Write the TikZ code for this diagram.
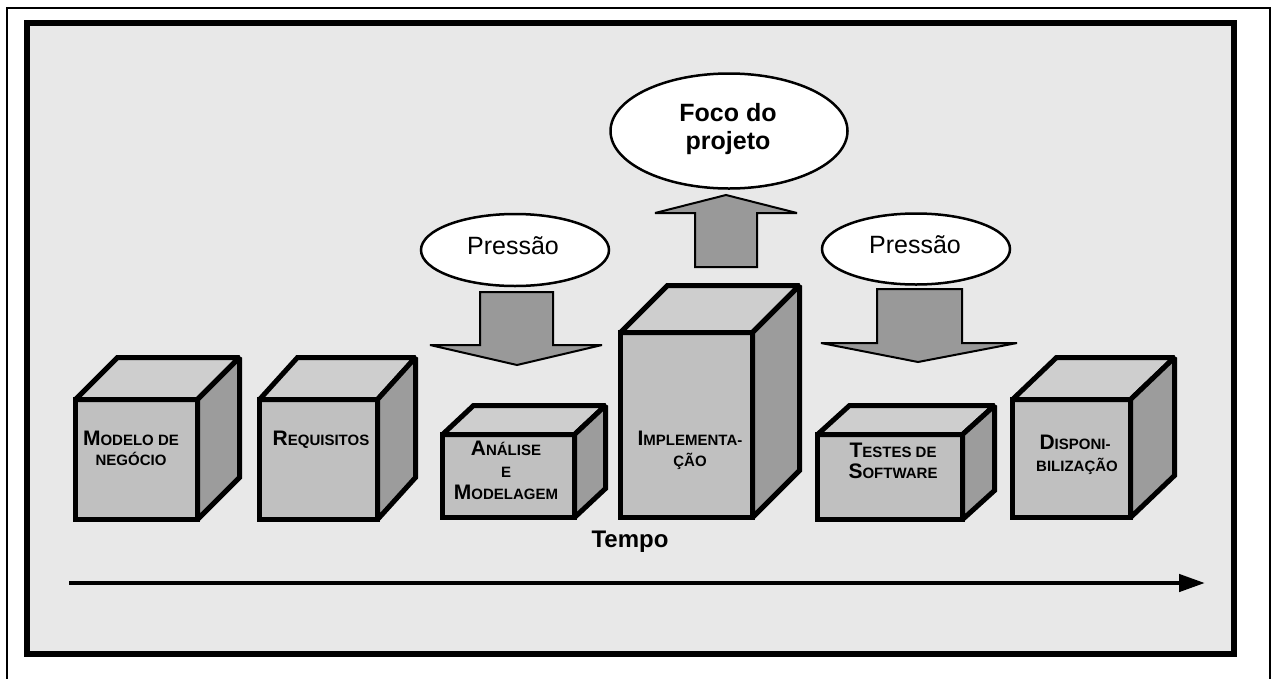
\documentclass[tikz,border=0pt]{standalone}
\usepackage{fontspec}
\setmainfont{Liberation Sans}
\usetikzlibrary{arrows.meta,shapes.geometric}

\definecolor{panelgray}{HTML}{E8E8E8}
\definecolor{frontgray}{HTML}{C0C0C0}
\definecolor{topgray}{HTML}{CECECE}
\definecolor{sidegray}{HTML}{9C9C9C}
\definecolor{arrowgray}{HTML}{999999}

% small caps built by hand: a large initial and smaller capitals
\newcommand\capsmall[2]{{\fontsize{21}{21}\selectfont #1}{\fontsize{15}{15}\selectfont #2}}

% cube: name, left, right, top, bottom of the front face, depth dx, dy
\newcommand\drawcube[7]{%
  \coordinate (#1-tl) at (#2,#4);
  \coordinate (#1-tr) at (#3,#4);
  \coordinate (#1-br) at (#3,#5);
  \coordinate (#1-bl) at (#2,#5);
  \draw[cubeline, fill=frontgray] (#1-tl) rectangle (#1-br);
  \draw[cubeline, fill=topgray] (#1-tl) -- ([shift={(#6,-#7)}]#1-tl)
        -- ([shift={(#6,-#7)}]#1-tr) -- (#1-tr) -- cycle;
  \draw[cubeline, fill=sidegray] (#1-tr) -- ([shift={(#6,-#7)}]#1-tr)
        -- ([shift={(#6,-#7)}]#1-br) -- (#1-br) -- cycle;
}

\tikzset{
  cubeline/.style={line width=5pt, line join=miter, miter limit=2, draw=black},
  lbl/.style={anchor=base, inner sep=0pt, font=\bfseries},
  balloon/.style={ellipse, draw=black, line width=2.5pt, fill=white, inner sep=0pt},
  ptext/.style={anchor=base, inner sep=0pt, font=\fontsize{25}{25}\selectfont},
  btext/.style={anchor=base, inner sep=0pt, font=\fontsize{25}{25}\selectfont\bfseries},
  blockarrow/.style={draw=black, line width=2pt, fill=arrowgray, line join=miter, miter limit=2},
}

\begin{document}
\begin{tikzpicture}[x=1pt, y=-1pt]
\useasboundingbox (0,0) rectangle (1279,678);
\clip (0,0) rectangle (1279,678);
\fill[white] (0,0) rectangle (1279,678);

% outer frame, open at the bottom
\draw[line width=2pt] (7,700) -- (7,8) -- (1270,8) -- (1270,700);

% grey panel
\draw[line width=6pt, fill=panelgray] (27,23) rectangle (1234,654);

% cubes
\drawcube{c1}{75.5}{197.5}{399.5}{519.5}{42}{42}
\drawcube{c2}{259.5}{377.5}{399.5}{519.5}{38}{42}
\drawcube{c3}{442.5}{574.5}{434.5}{517.5}{31}{29}
\drawcube{c4}{620.5}{752.5}{332.5}{517.5}{47}{47}
\drawcube{c5}{817.5}{962.5}{434.5}{519.5}{32}{29}
\drawcube{c6}{1012.5}{1130.5}{399.5}{517.5}{44}{42}

% cube labels
\node[lbl] (l1a) at (131,445) {\capsmall{M}{ODELO DE}};
\node[lbl] (l1b) at (131,465) {\capsmall{}{NEGÓCIO}};
\node[lbl] (l2a) at (321,445) {\capsmall{R}{EQUISITOS}};
\node[lbl] (l3a) at (506,455) {\capsmall{A}{NÁLISE}};
\node[lbl] (l3b) at (506,477) {\capsmall{}{E}};
\node[lbl] (l3c) at (506,499) {\capsmall{M}{ODELAGEM}};
\node[lbl] (l4a) at (690,445) {\capsmall{I}{MPLEMENTA-}};
\node[lbl] (l4b) at (690,466) {\capsmall{}{ÇÃO}};
\node[lbl] (l5a) at (893,457) {\capsmall{T}{ESTES DE}};
\node[lbl] (l5b) at (893,478) {\capsmall{S}{OFTWARE}};
\node[lbl] (l6a) at (1075,449) {\capsmall{D}{ISPONI-}};
\node[lbl] (l6b) at (1077,471) {\capsmall{}{BILIZAÇÃO}};

% balloons
\node[balloon, minimum width=188pt, minimum height=72pt] (p1) at (515,250) {};
\node[ptext] (p1t) at (513,254) {Pressão};
\node[balloon, minimum width=188pt, minimum height=71pt] (p2) at (916,249) {};
\node[ptext] (p2t) at (915,253) {Pressão};
\node[balloon, minimum width=237pt, minimum height=115pt] (foco) at (729,131) {};
\node[btext] (foco1) at (728,121) {Foco do};
\node[btext] (foco2) at (728,149) {projeto};

% block arrows
\draw[blockarrow] (480,292) -- (553,292) -- (553,345) -- (602,345)
      -- (517,365) -- (430,345) -- (480,345) -- cycle;
\draw[blockarrow] (877,289) -- (962,289) -- (962,343) -- (1017,343)
      -- (918,362) -- (821,343) -- (877,343) -- cycle;
\draw[blockarrow] (695,267) -- (757,267) -- (757,213) -- (797,213)
      -- (726,195) -- (655,213) -- (695,213) -- cycle;

% time axis
\node[anchor=base, inner sep=0pt, font=\fontsize{24}{24}\selectfont\bfseries] (tempo) at (630,547) {Tempo};
\coordinate (t0) at (69,583);
\coordinate (t1) at (1205,583);
\draw[line width=4.5pt, -{Triangle[length=26pt,width=17pt]}] (t0) -- (t1);
\end{tikzpicture}
\end{document}
